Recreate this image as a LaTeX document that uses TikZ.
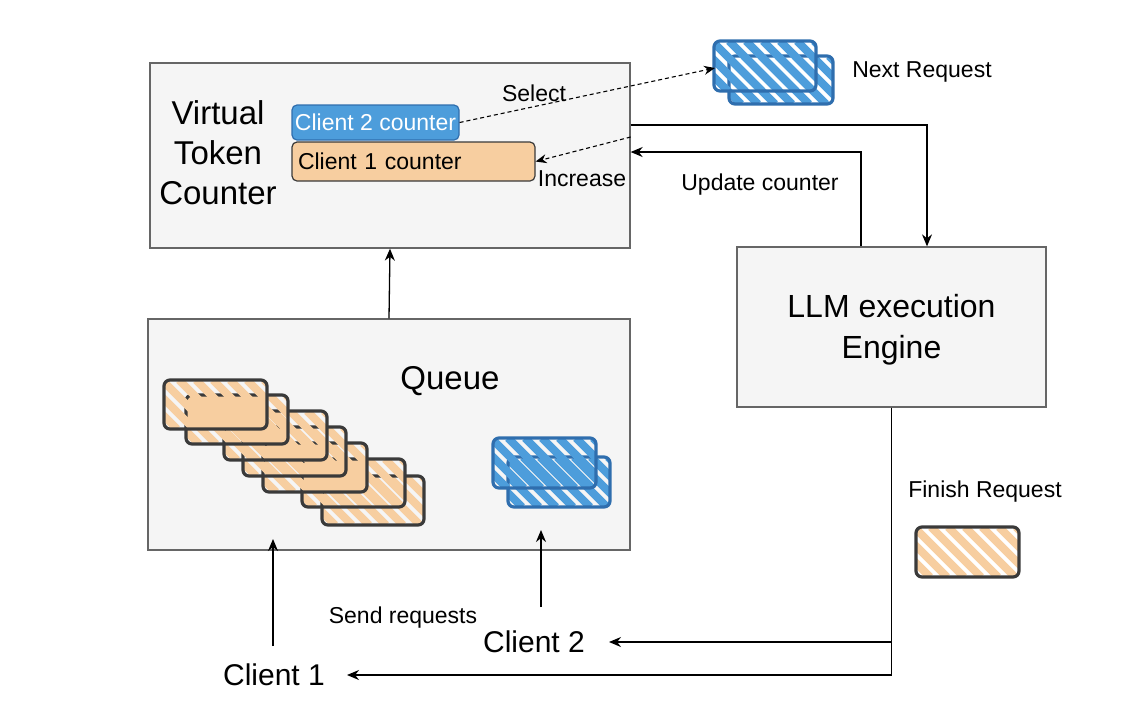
\documentclass[tikz,border=0pt]{standalone}
\usepackage{fontspec}
\setmainfont{Liberation Sans}
\usetikzlibrary{arrows.meta}

\definecolor{boxfill}{HTML}{F5F5F5}
\definecolor{boxline}{HTML}{666666}
\definecolor{bluefill}{HTML}{4D9DDB}
\definecolor{blueline}{HTML}{2F6EAE}
\definecolor{orangefill}{HTML}{F7CEA0}
\definecolor{darkline}{HTML}{3A3A3A}

% hatched request card: x1 y1 x2 y2 stripe-colour outline-colour
\newcommand\hcard[6]{%
  \begin{scope}
    \clip[rounded corners=6pt] (#1,#2) rectangle (#3,#4);
    \pgfmathsetmacro\hh{#4-#2}
    \foreach \s in {-70,-53,...,120}
      \draw[#5, line width=8pt] ({#1+\s},#2) -- ({#1+\s+\hh},#4);
  \end{scope}
  \draw[#6, line width=3.2pt, rounded corners=6pt] (#1,#2) rectangle (#3,#4);
}

\tikzset{
  graybox/.style={draw=boxline, fill=boxfill, line width=1.3pt},
  arr/.style={draw=black, line width=1.3pt, -{Stealth[length=12pt,width=10pt]}},
  dasharr/.style={draw=black, line width=1.1pt, dash pattern=on 4pt off 3pt,
                  -{Stealth[length=11pt,width=9pt]}},
  lbl/.style={font=\fontsize{23}{28}\selectfont, inner sep=0pt, yshift=-3pt},
  big/.style={font=\fontsize{32}{41}\selectfont, inner sep=0pt, align=center, yshift=-3pt},
  client/.style={font=\fontsize{30}{36}\selectfont, inner sep=0pt},
}

\begin{document}
\begin{tikzpicture}[x=1pt, y=-1pt]
\useasboundingbox (0,0) rectangle (1122,724);

% main boxes
\node[graybox, minimum width=480pt, minimum height=185pt] (vtc) at (390,155.5) {};
\node[graybox, minimum width=482pt, minimum height=231pt] (queue) at (389,434.5) {};
\node[graybox, minimum width=309pt, minimum height=160pt] (llm) at (891.5,327) {};

\node[big, yshift=3pt, font=\fontsize{33}{40}\selectfont] (vtctext) at (218,153) {Virtual\\Token\\Counter};
\node[big, font=\fontsize{33}{40}\selectfont] (qtext) at (450,378) {Queue};
\node[big] (llmtext) at (891.5,327) {LLM execution\\Engine};

% per-client counters
\node[draw=blueline, fill=bluefill, rounded corners=5pt, line width=1.2pt,
      minimum width=167pt, minimum height=35pt, inner sep=0pt, text=white,
      font=\fontsize{23}{28}\selectfont] (c2cnt) at (375.5,122.5) {Client 2 counter};
\node[draw=darkline, fill=orangefill, rounded corners=5pt, line width=1.2pt,
      minimum height=39pt, text width=231pt, inner xsep=6pt, inner ysep=0pt, align=left,
      font=\fontsize{23}{28}\selectfont] (c1cnt) at (413.5,161.5) {Client 1 counter};

% queued requests of client 1
\hcard{322}{476}{424}{525}{orangefill}{darkline}
\hcard{302}{459}{405}{507}{orangefill}{darkline}
\hcard{263}{443}{367}{492}{orangefill}{darkline}
\hcard{243}{427}{346}{476}{orangefill}{darkline}
\hcard{224}{411}{327}{460}{orangefill}{darkline}
\hcard{186}{395}{288}{444}{orangefill}{darkline}
\hcard{164}{380}{267}{429}{orangefill}{darkline}

% queued requests of client 2
\hcard{508}{457}{610}{507}{bluefill}{blueline}
\hcard{493}{438}{596}{488}{bluefill}{blueline}

% next request picked for execution
\hcard{729}{56}{833}{104}{bluefill}{blueline}
\hcard{714}{41}{816}{91}{bluefill}{blueline}
\coordinate (nreq) at (715,68);
\node[lbl] (nreqtext) at (922,69) {Next Request};

% finished request
\hcard{916}{527}{1019}{577}{orangefill}{darkline}
\node[lbl] (fintext) at (985,489) {Finish Request};

% clients
\node[client] (c2) at (534,642) {Client 2};
\node[client] (c1) at (274,675) {Client 1};
\node[lbl] (sendtext) at (403,615) {Send requests};
\coordinate (c1start) at (273,646);
\coordinate (c1end) at (273,539);
\coordinate (c2start) at (541,607);
\coordinate (c2end) at (541,530);
\coordinate (c2tip) at (609,642);
\coordinate (c1tip) at (347,675);

% connectors
\draw[arr] (queue.north) -- (vtc.south);
\draw[arr] ([yshift=30.5pt]vtc.east) -| ([xshift=35.5pt]llm.north);
\draw[arr] ([xshift=-30.5pt]llm.north) |- ([yshift=3.5pt]vtc.east);
\node[lbl] (updtext) at (760,182) {Update counter};

\draw[dasharr] (c2cnt.east) -- (nreq);
\node[lbl] (seltext) at (534,90) {Select};
\draw[dasharr] ([yshift=18.5pt]vtc.east) -- (c1cnt.east);
\node[lbl] (inctext) at (582,176) {Increase};

\draw[arr] (llm.south) |- (c2tip);
\draw[arr] (llm.south) |- (c1tip);
\draw[arr] (c1start) -- (c1end);
\draw[arr] (c2start) -- (c2end);
\end{tikzpicture}
\end{document}
